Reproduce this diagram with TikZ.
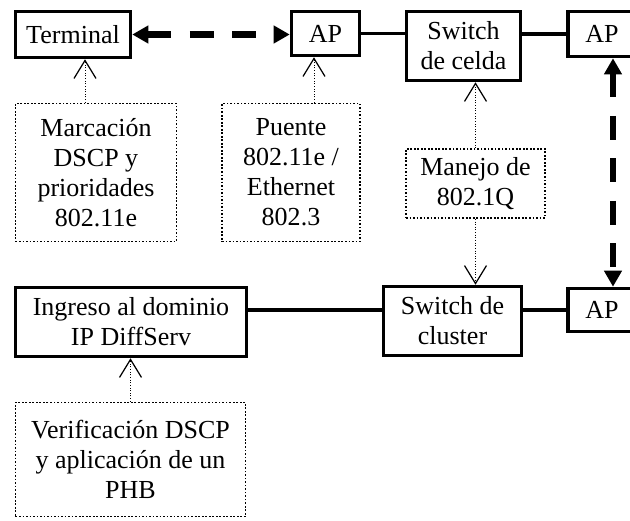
\documentclass[tikz,border=0pt]{standalone}
\usepackage{fontspec}
\setmainfont{Liberation Serif}
\usepackage{tikz}
\usetikzlibrary{arrows.meta, calc}
\newcommand{\boxfont}{\fontsize{14.8}{17.1}\selectfont}

\begin{document}
\begin{tikzpicture}[
    block/.style={rectangle, draw=black, line width=2pt, align=center, font=\boxfont, inner sep=2pt},
    note/.style={rectangle, draw=black, densely dotted, line width=1pt, align=center, font=\boxfont, inner sep=2pt},
    link/.style={line width=1.9pt},
    radio/.style={{Triangle[length=0.32cm, width=0.34cm]}-{Triangle[length=0.32cm, width=0.34cm]}, line width=3.6pt, dash pattern=on 0.48cm off 0.37cm},
    tag/.style={-{Straight Barb[length=0.36cm, width=0.44cm, line width=0.7pt]}, densely dotted, line width=0.5pt}
]
\path[use as bounding box] (0, 0) rectangle (12.6, -10.42);
\clip (0, 0) rectangle (12.6, -10.42);

% Top row
\node[block, minimum width=2.30cm, minimum height=0.92cm] (term) at (1.46, -0.69) {Terminal};
\node[block, minimum width=1.36cm, minimum height=0.88cm] (ap1) at (6.51, -0.67) {AP};
\node[block, minimum width=2.28cm, minimum height=1.38cm] (celda) at (9.27, -0.92) {Switch\\de celda};
\node[block, minimum width=1.36cm, minimum height=0.90cm] (ap2) at (12.04, -0.68) {AP};

% Bottom row
\node[block, minimum width=4.62cm, minimum height=1.38cm] (ingreso) at (2.62, -6.44) {Ingreso al dominio\\IP DiffServ};
\node[block, minimum width=2.76cm, minimum height=1.38cm] (cluster) at (9.05, -6.42) {Switch de\\cluster};
\node[block, minimum width=1.36cm, minimum height=0.86cm] (ap3) at (12.04, -6.20) {AP};

% Notes
\node[note, minimum width=3.22cm, minimum height=2.76cm] (marc) at (1.92, -3.45) {Marcación\\DSCP y\\prioridades\\802.11e};
\node[note, minimum width=2.76cm, minimum height=2.76cm] (puente) at (5.82, -3.45) {Puente\\802.11e /\\Ethernet\\802.3};
\node[note, minimum width=2.78cm, minimum height=1.38cm] (manejo) at (9.51, -3.67) {Manejo de\\802.1Q};
\node[note, minimum width=4.60cm, minimum height=2.28cm] (verif) at (2.61, -9.19) {Verificación DSCP\\y aplicación de un\\PHB};

% Wired links
\draw[link] (ap1.east) -- (ap1.east -| celda.west);
\draw[link] (celda.east |- ap2.west) -- (ap2.west);
\draw[link] (ap3.west) -- (ap3.west -| cluster.east);
\draw[link] (cluster.west |- ap3.west) -- (ingreso.east |- ap3.west);

% Wireless links
\draw[radio] (term.east) -- (term.east -| ap1.west);
\draw[radio] ($(ap2.south)+(0.22, 0)$) coordinate (r1) -- (r1 |- ap3.north);

% Note arrows
\draw[tag] ($(marc.north)+(-0.22, 0)$) coordinate (n1) -- (n1 |- term.south);
\draw[tag] ($(puente.north)+(0.46, 0)$) coordinate (n2) -- (n2 |- ap1.south);
\draw[tag] (manejo.north) -- (manejo.north |- celda.south);
\draw[tag] (manejo.south) -- (manejo.south |- cluster.north);
\draw[tag] (verif.north) -- (verif.north |- ingreso.south);

\end{tikzpicture}
\end{document}
